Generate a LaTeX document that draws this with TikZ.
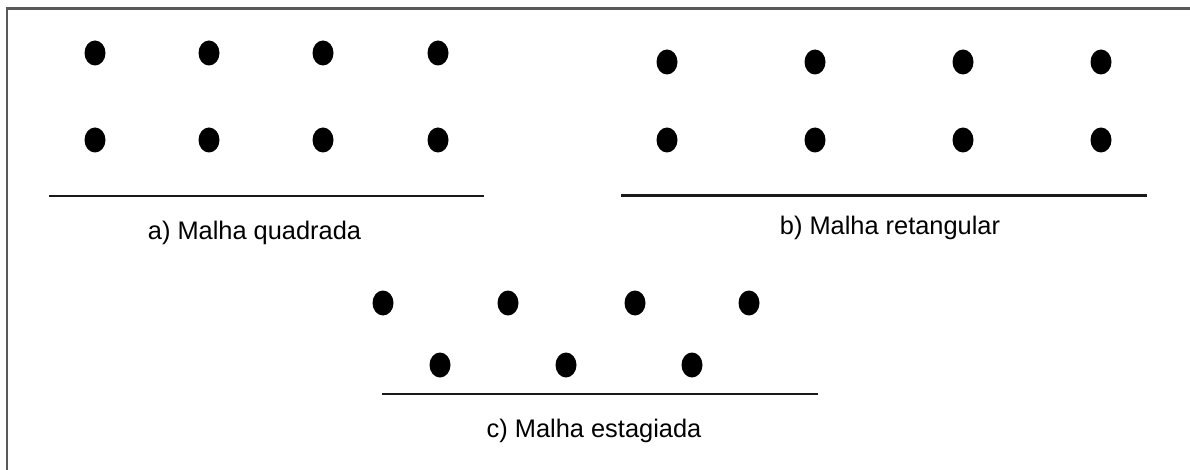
\documentclass[tikz,border=0pt]{standalone}
\usepackage{fontspec}
\setmainfont{Liberation Sans}
\begin{document}
\begin{tikzpicture}[x=1pt,y=-1pt,
  dotmark/.style={fill=black,draw=none,ellipse},
  baseline rule/.style={draw=black!90,line width=2.6pt},
  caption/.style={anchor=base,inner sep=0pt,font=\fontsize{25.4}{30}\selectfont},
  frameline/.style={draw=black!65,line width=2.2pt}]
\useasboundingbox (0,0) rectangle (1190,470);
% frame (left and top edges)
\coordinate (fbl) at (7,470);
\coordinate (ftl) at (7,8.5);
\coordinate (ftr) at (1190,8.5);
\draw[frameline] (fbl) -- (ftl) -- (ftr);
% a) square grid
\foreach \x [count=\i] in {95,209,323,438}{
  \fill (\x,53) ellipse [x radius=10.5, y radius=12.5];
  \fill (\x,140) ellipse [x radius=10.5, y radius=12.5];
}
\coordinate (a1) at (49,196);
\coordinate (a2) at (484,196);
\draw[baseline rule] (a1) -- (a2);
\node[caption] (ta) at (254.5,240) {a) Malha quadrada};
% b) rectangular grid
\foreach \x in {667,815,963,1101}{
  \fill (\x,62) ellipse [x radius=10.5, y radius=12.5];
  \fill (\x,140) ellipse [x radius=10.5, y radius=12.5];
}
\coordinate (b1) at (621,195.5);
\coordinate (b2) at (1147,195.5);
\draw[baseline rule] (b1) -- (b2);
\node[caption] (tb) at (890,235) {b) Malha retangular};
% c) staggered grid
\foreach \x in {383,508,635,749}{
  \fill (\x,303) ellipse [x radius=10.5, y radius=12.5];
}
\foreach \x in {440,566,692}{
  \fill (\x,365) ellipse [x radius=10.5, y radius=12.5];
}
\coordinate (c1) at (382,394);
\coordinate (c2) at (818,394);
\draw[baseline rule] (c1) -- (c2);
\node[caption] (tc) at (594,437) {c) Malha estagiada};
\end{tikzpicture}
\end{document}
